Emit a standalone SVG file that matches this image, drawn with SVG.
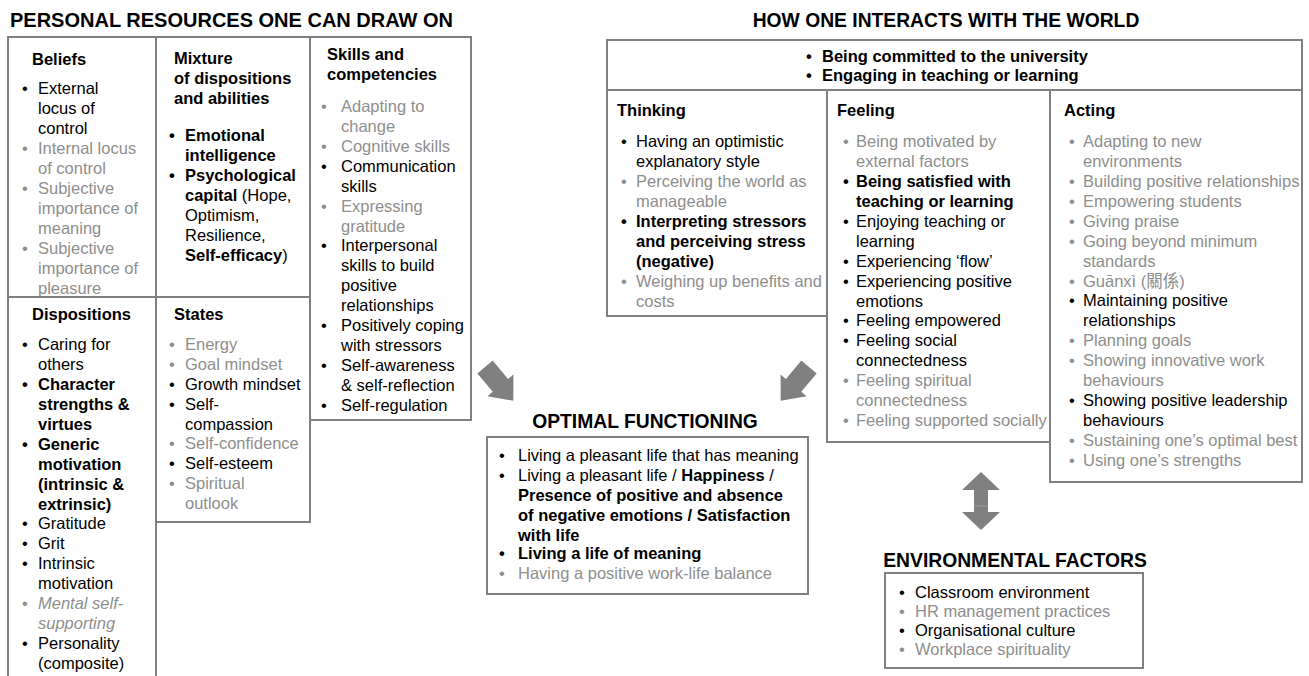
<svg xmlns="http://www.w3.org/2000/svg" width="1309" height="676" viewBox="0 0 1309 676">
<style>
text{font-family:"Liberation Sans",Arial,"Noto Sans CJK TC",sans-serif;font-size:16.5px;fill:#000}
.g{fill:#8e8e8e}
.b{font-weight:bold}
.i{font-style:italic}
.title{font-weight:bold;font-size:19.3px}
.box{fill:#fff;stroke:#808080;stroke-width:2}
.arr{fill:#808080}
</style>
<defs>
<polygon id="blk" points="0,-10 24,-10 24,-17 44,0 24,17 24,10 0,10"/>
</defs>
<rect width="1309" height="676" fill="#fff"/>

<g id="title-personal"><text class="title" x="10" y="27" style="font-size:20px">PERSONAL RESOURCES ONE CAN DRAW ON</text></g>
<g id="title-world"><text class="title" x="946" y="27" text-anchor="middle">HOW ONE INTERACTS WITH THE WORLD</text></g>

<g id="beliefs">
<rect class="box" x="8" y="37" width="148" height="260"/>
<text class="b" x="32" y="65">Beliefs</text>
<text x="22" y="94">•</text><text x="38" y="94">External<tspan x="38" dy="20">locus of</tspan><tspan x="38" dy="20">control</tspan></text>
<text class="g" x="22" y="154">•</text><text class="g" x="38" y="154">Internal locus<tspan x="38" dy="20">of control</tspan></text>
<text class="g" x="22" y="194">•</text><text class="g" x="38" y="194">Subjective<tspan x="38" dy="20">importance of</tspan><tspan x="38" dy="20">meaning</tspan></text>
<text class="g" x="22" y="254">•</text><text class="g" x="38" y="254">Subjective<tspan x="38" dy="20">importance of</tspan><tspan x="38" dy="20">pleasure</tspan></text>
</g>

<g id="mixture">
<rect class="box" x="156" y="37" width="154" height="260"/>
<text class="b" x="174" y="64">Mixture<tspan x="174" dy="20">of dispositions</tspan><tspan x="174" dy="20">and abilities</tspan></text>
<text class="b" x="169" y="141">•</text><text class="b" x="185" y="141">Emotional<tspan x="185" dy="20">intelligence</tspan></text>
<text class="b" x="169" y="181">•</text><text x="185" y="181"><tspan class="b">Psychological</tspan><tspan x="185" dy="20" class="b">capital</tspan> (Hope,<tspan x="185" dy="20">Optimism,</tspan><tspan x="185" dy="20">Resilience,</tspan><tspan x="185" dy="19.5" class="b">Self-efficacy</tspan>)</text>
</g>

<g id="dispositions">
<rect class="box" x="8" y="297" width="148" height="390"/>
<text class="b" x="32" y="320">Dispositions</text>
<text x="22" y="350">•</text><text x="38" y="350">Caring for<tspan x="38" dy="20">others</tspan></text>
<text class="b" x="22" y="390">•</text><text class="b" x="38" y="390">Character<tspan x="38" dy="20">strengths &amp;</tspan><tspan x="38" dy="20">virtues</tspan></text>
<text class="b" x="22" y="450">•</text><text class="b" x="38" y="450">Generic<tspan x="38" dy="20">motivation</tspan><tspan x="38" dy="20">(intrinsic &amp;</tspan><tspan x="38" dy="19.5">extrinsic)</tspan></text>
<text x="22" y="529">•</text><text x="38" y="529">Gratitude</text>
<text x="22" y="549">•</text><text x="38" y="549">Grit</text>
<text x="22" y="569">•</text><text x="38" y="569">Intrinsic<tspan x="38" dy="20">motivation</tspan></text>
<text class="g" x="22" y="609">•</text><text class="g i" x="38" y="609">Mental self-<tspan x="38" dy="20">supporting</tspan></text>
<text x="22" y="649">•</text><text x="38" y="649">Personality<tspan x="38" dy="19.5">(composite)</tspan></text>
</g>

<g id="states">
<rect class="box" x="156" y="297" width="154" height="225"/>
<text class="b" x="174" y="320">States</text>
<text class="g" x="169" y="350">•</text><text class="g" x="185" y="350">Energy</text>
<text class="g" x="169" y="370">•</text><text class="g" x="185" y="370">Goal mindset</text>
<text x="169" y="390">•</text><text x="185" y="390">Growth mindset</text>
<text x="169" y="410">•</text><text x="185" y="410">Self-<tspan x="185" dy="20">compassion</tspan></text>
<text class="g" x="169" y="449">•</text><text class="g" x="185" y="449">Self-confidence</text>
<text x="169" y="469">•</text><text x="185" y="469">Self-esteem</text>
<text class="g" x="169" y="489">•</text><text class="g" x="185" y="489">Spiritual<tspan x="185" dy="20">outlook</tspan></text>
</g>

<g id="skills">
<rect class="box" x="310" y="37" width="161" height="383"/>
<text class="b" x="327" y="60">Skills and<tspan x="327" dy="20">competencies</tspan></text>
<text class="g" x="321" y="112">•</text><text class="g" x="341" y="112">Adapting to<tspan x="341" dy="20">change</tspan></text>
<text class="g" x="321" y="152">•</text><text class="g" x="341" y="152">Cognitive skills</text>
<text x="321" y="172">•</text><text x="341" y="172">Communication<tspan x="341" dy="20">skills</tspan></text>
<text class="g" x="321" y="212">•</text><text class="g" x="341" y="212">Expressing<tspan x="341" dy="20">gratitude</tspan></text>
<text x="321" y="251">•</text><text x="341" y="251">Interpersonal<tspan x="341" dy="20">skills to build</tspan><tspan x="341" dy="20">positive</tspan><tspan x="341" dy="20">relationships</tspan></text>
<text x="321" y="331">•</text><text x="341" y="331">Positively coping<tspan x="341" dy="20">with stressors</tspan></text>
<text x="321" y="371">•</text><text x="341" y="371">Self-awareness<tspan x="341" dy="20">&amp; self-reflection</tspan></text>
<text x="321" y="411">•</text><text x="341" y="411">Self-regulation</text>
</g>

<g id="commitment">
<rect class="box" x="607" y="40" width="695" height="50"/>
<text class="b" x="806" y="62">•</text><text class="b" x="822" y="62">Being committed to the university</text>
<text class="b" x="806" y="81">•</text><text class="b" x="822" y="81">Engaging in teaching or learning</text>
</g>

<g id="thinking">
<rect class="box" x="607" y="90" width="220" height="226"/>
<text class="b" x="617" y="116">Thinking</text>
<text x="621" y="147">•</text><text x="636" y="147">Having an optimistic<tspan x="636" dy="20">explanatory style</tspan></text>
<text class="g" x="621" y="187">•</text><text class="g" x="636" y="187">Perceiving the world as<tspan x="636" dy="20">manageable</tspan></text>
<text class="b" x="621" y="227">•</text><text class="b" x="636" y="227">Interpreting stressors<tspan x="636" dy="20">and perceiving stress</tspan><tspan x="636" dy="20">(negative)</tspan></text>
<text class="g" x="621" y="287">•</text><text class="g" x="636" y="287">Weighing up benefits and<tspan x="636" dy="19.5">costs</tspan></text>
</g>

<g id="feeling">
<rect class="box" x="827" y="90" width="223" height="352"/>
<text class="b" x="837" y="116">Feeling</text>
<text class="g" x="843" y="147">•</text><text class="g" x="856" y="147">Being motivated by<tspan x="856" dy="20">external factors</tspan></text>
<text class="b" x="843" y="187">•</text><text class="b" x="856" y="187">Being satisfied with<tspan x="856" dy="20">teaching or learning</tspan></text>
<text x="843" y="227">•</text><text x="856" y="227">Enjoying teaching or<tspan x="856" dy="20">learning</tspan></text>
<text x="843" y="267">•</text><text x="856" y="267">Experiencing ‘flow’</text>
<text x="843" y="287">•</text><text x="856" y="287">Experiencing positive<tspan x="856" dy="19.5">emotions</tspan></text>
<text x="843" y="326">•</text><text x="856" y="326">Feeling empowered</text>
<text x="843" y="346">•</text><text x="856" y="346">Feeling social<tspan x="856" dy="20">connectedness</tspan></text>
<text class="g" x="843" y="386">•</text><text class="g" x="856" y="386">Feeling spiritual<tspan x="856" dy="20">connectedness</tspan></text>
<text class="g" x="843" y="426">•</text><text class="g" x="856" y="426">Feeling supported socially</text>
</g>

<g id="acting">
<rect class="box" x="1050" y="90" width="252" height="392"/>
<text class="b" x="1064" y="116">Acting</text>
<text class="g" x="1069" y="147">•</text><text class="g" x="1083" y="147">Adapting to new<tspan x="1083" dy="20">environments</tspan></text>
<text class="g" x="1069" y="187">•</text><text class="g" x="1083" y="187">Building positive relationships</text>
<text class="g" x="1069" y="207">•</text><text class="g" x="1083" y="207">Empowering students</text>
<text class="g" x="1069" y="227">•</text><text class="g" x="1083" y="227">Giving praise</text>
<text class="g" x="1069" y="247">•</text><text class="g" x="1083" y="247">Going beyond minimum<tspan x="1083" dy="20">standards</tspan></text>
<text class="g" x="1069" y="287">•</text><text class="g" x="1083" y="287">Guānxì (關係)</text>
<text x="1069" y="306">•</text><text x="1083" y="306">Maintaining positive<tspan x="1083" dy="20">relationships</tspan></text>
<text class="g" x="1069" y="346">•</text><text class="g" x="1083" y="346">Planning goals</text>
<text class="g" x="1069" y="366">•</text><text class="g" x="1083" y="366">Showing innovative work<tspan x="1083" dy="20">behaviours</tspan></text>
<text x="1069" y="406">•</text><text x="1083" y="406">Showing positive leadership<tspan x="1083" dy="20">behaviours</tspan></text>
<text class="g" x="1069" y="446">•</text><text class="g" x="1083" y="446">Sustaining one’s optimal best</text>
<text class="g" x="1069" y="466">•</text><text class="g" x="1083" y="466">Using one’s strengths</text>
</g>

<g id="optimal">
<text class="title" x="645" y="428" text-anchor="middle">OPTIMAL FUNCTIONING</text>
<rect class="box" x="487" y="437" width="321" height="157"/>
<text x="499" y="461">•</text><text x="518" y="461">Living a pleasant life that has meaning</text>
<text x="499" y="481">•</text><text x="518" y="481">Living a pleasant life / <tspan class="b">Happiness</tspan> /<tspan x="518" dy="19.5" class="b">Presence of positive and absence</tspan><tspan x="518" dy="20" class="b">of negative emotions / Satisfaction</tspan><tspan x="518" dy="20" class="b">with life</tspan></text>
<text class="b" x="499" y="559">•</text><text class="b" x="518" y="559">Living a life of meaning</text>
<text class="g" x="499" y="579">•</text><text class="g" x="518" y="579">Having a positive work-life balance</text>
</g>

<g id="environment">
<text class="title" x="1015" y="567" text-anchor="middle">ENVIRONMENTAL FACTORS</text>
<rect class="box" x="885" y="573" width="258" height="95"/>
<text x="899" y="598">•</text><text x="915" y="598">Classroom environment</text>
<text class="g" x="899" y="617">•</text><text class="g" x="915" y="617">HR management practices</text>
<text x="899" y="636">•</text><text x="915" y="636">Organisational culture</text>
<text class="g" x="899" y="655">•</text><text class="g" x="915" y="655">Workplace spirituality</text>
</g>

<g id="connectors">
<use href="#blk" class="arr" transform="translate(485,367) rotate(50)"/>
<use href="#blk" class="arr" transform="translate(809,367) rotate(130)"/>
<polygon class="arr" points="981,472 1000,490 988,490 988,512 1000,512 981,530 962,512 974,512 974,490 962,490"/>
<line x1="974" y1="506" x2="988" y2="506" stroke="#9a9a9a" stroke-width="1"/>
</g>
</svg>
